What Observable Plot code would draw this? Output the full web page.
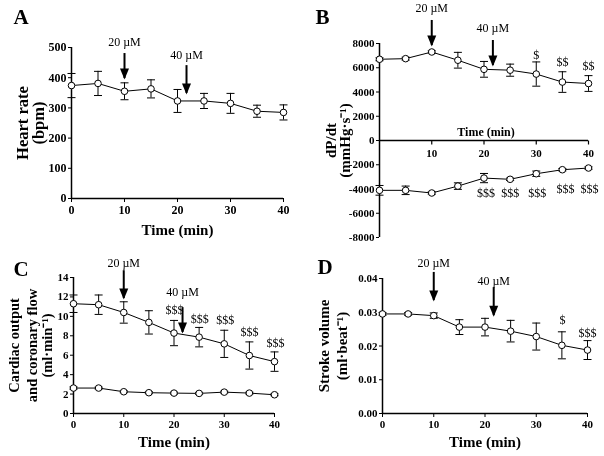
<!DOCTYPE html>
<html><head><meta charset="utf-8">
<script src="https://cdn.jsdelivr.net/npm/d3@7"></script>
<script src="https://cdn.jsdelivr.net/npm/@observablehq/plot@0.6"></script>
<style>
body{margin:0;background:#fff;}
#wrap{position:relative;width:604px;height:456px;overflow:hidden;background:#fff;-webkit-font-smoothing:antialiased;}
#wrap svg{will-change:transform;}
</style></head><body><div id="wrap"></div>
<script>
// ---- data ----
const time = [0, 5, 10, 15, 20, 25, 30, 35, 40];
const xTicks = [0, 10, 20, 30, 40];

const heartRate   = [374, 381, 355, 363, 323, 323, 315, 289, 285];
const heartRateSE = [40, 40, 28, 30, 38, 25, 33, 20, 25];
const heartRateTicks = [0, 100, 200, 300, 400, 500];

const dpdtMax   = [6700, 6750, 7300, 6620, 5870, 5800, 5480, 4820, 4700];
const dpdtMaxSE = [120, 120, 100, 650, 650, 500, 1000, 850, 650];
const dpdtMin   = [-4110, -4110, -4330, -3760, -3100, -3200, -2740, -2410, -2270];
const dpdtMinSE = [400, 350, 100, 270, 380, 100, 220, 100, 100];
const dpdtTicks = [-8000, -6000, -4000, -2000, 0, 2000, 4000, 6000, 8000];

const cardiacOutput   = [11.3, 11.2, 10.4, 9.38, 8.28, 7.86, 7.17, 5.97, 5.34];
const cardiacOutputSE = [0.9, 1.0, 1.1, 1.2, 1.3, 1.0, 1.4, 1.4, 1.0];
const coronaryFlow    = [2.62, 2.62, 2.24, 2.14, 2.1, 2.07, 2.2, 2.1, 1.93];
const coronaryFlowSE  = [0.12, 0.1, 0.1, 0.1, 0.1, 0.1, 0.1, 0.1, 0.1];
const flowTicks = [0, 2, 4, 6, 8, 10, 12, 14];

const strokeVolume   = [0.0295, 0.0295, 0.0290, 0.0256, 0.0256, 0.0244, 0.0228, 0.0202, 0.0188];
const strokeVolumeSE = [0.0004, 0.0004, 0.0008, 0.0022, 0.0026, 0.0032, 0.0040, 0.0040, 0.0028];
const svTicks = [0, 0.01, 0.02, 0.03, 0.04];

const doseLabels = ["20 µM", "40 µM"];
const doseTimes = [10, 21.7];
// arrow [top, tip, label] heights per panel, in each panel's units
const arrowsA = [[480, 397, 517], [440, 348, 473]];
const arrowsB = [[9900, 7830, 10880], [8250, 6190, 9240]];
const arrowsC = [[14.7, 11.84, 15.44], [10.9, 8.34, 12.46]];
const arrowsD = [[0.0418, 0.0335, 0.0444], [0.0373, 0.0290, 0.0391]];

// significance marks: [time, height, label]
const sigB = [[30, 7010, "$"], [35, 6430, "$$"], [40, 6100, "$$"],
              [20.4, -4370, "$$$"], [25, -4370, "$$$"], [30.2, -4370, "$$$"], [35.6, -4040, "$$$"], [40.2, -4040, "$$$"]];
const sigC = [[20.1, 10.6, "$$$"], [25.1, 9.68, "$$$"], [30.2, 9.57, "$$$"], [35, 8.34, "$$$"], [40.2, 7.2, "$$$"]];
const sigD = [[35.1, 0.0276, "$"], [40, 0.0237, "$$$"]];

// ---- drawing ----
const serif = "'Liberation Serif','Times New Roman',Times,serif";
const capSymbol = {draw(ctx) { ctx.moveTo(-4, 0); ctx.lineTo(4, 0); }};
const tickDown = {draw(ctx) { ctx.moveTo(0, 0); ctx.lineTo(0, 4); }};
const headSymbol = {draw(ctx) { ctx.moveTo(0, 1); ctx.lineTo(-4.5, -10); ctx.lineTo(4.5, -10); ctx.closePath(); }};

function seriesMarks(ys, ses) {
  const rows = time.map((t, i) => ({t, y: ys[i], lo: ys[i] - ses[i], hi: ys[i] + ses[i]}));
  return [
    Plot.ruleX(rows, {x: "t", y1: "lo", y2: "hi", stroke: "black", strokeWidth: 1}),
    Plot.dot(rows, {x: "t", y: "lo", symbol: capSymbol, stroke: "black", fill: "none", strokeWidth: 1}),
    Plot.dot(rows, {x: "t", y: "hi", symbol: capSymbol, stroke: "black", fill: "none", strokeWidth: 1}),
    Plot.line(rows, {x: "t", y: "y", stroke: "black", strokeWidth: 1}),
    Plot.dot(rows, {x: "t", y: "y", r: 3.3, fill: "white", stroke: "black", strokeWidth: 1})
  ];
}
function arrowMarks(arr) {
  const rows = arr.map((a, i) => ({t: doseTimes[i], top: a[0], tip: a[1], ty: a[2], label: doseLabels[i]}));
  return [
    Plot.ruleX(rows, {x: "t", y1: "top", y2: "tip", stroke: "black", strokeWidth: 2}),
    Plot.dot(rows, {x: "t", y: "tip", symbol: headSymbol, fill: "black", stroke: "none"}),
    Plot.text(rows, {x: "t", y: "ty", text: "label", fill: "black", fontSize: 12, fontWeight: "normal", fontFamily: serif})
  ];
}
function sigMarks(arr) {
  return Plot.text(arr, {x: d => d[0], y: d => d[1], text: d => d[2], fill: "black", fontSize: 12, fontWeight: "normal", fontFamily: serif});
}
function yLabel(lines) {
  return lines.map(([txt, dx, size]) => Plot.text([txt], {text: d => d, frameAnchor: "left", textAnchor: "middle", lineAnchor: "middle", rotate: -90, dx, fill: "black", fontSize: size, fontWeight: "bold", fontFamily: serif}));
}
function xLabel(dy) {
  return Plot.text(["Time (min)"], {text: d => d, frameAnchor: "bottom", textAnchor: "middle", lineAnchor: "middle", dy, fill: "black", fontSize: 15, fontWeight: "bold", fontFamily: serif});
}
function letter(ch, dx, dy) {
  return Plot.text([ch], {text: d => d, frameAnchor: "top-left", dx, dy, textAnchor: "start", lineAnchor: "bottom", fill: "black", fontSize: 21, fontWeight: "bold", fontFamily: serif});
}
function place(svg, left, top) {
  svg.style.position = "absolute";
  svg.style.left = left + "px";
  svg.style.top = top + "px";
  svg.style.overflow = "visible";
  svg.style.background = "transparent";
  document.getElementById("wrap").appendChild(svg);
}
const baseStyle = {fontFamily: serif, fontSize: "11px", fontWeight: "bold", color: "black", background: "transparent"};
const xOpts = {domain: [0, 40], ticks: xTicks, tickSize: 4, tickPadding: 3, label: null};

// Panel A
place(Plot.plot({
  width: 302, height: 248, marginTop: 47, marginRight: 19, marginBottom: 50, marginLeft: 71,
  style: {...baseStyle, fontSize: "12px"},
  x: xOpts,
  y: {domain: [0, 500], ticks: heartRateTicks, tickSize: 3, tickPadding: 2, label: null},
  marks: [
    Plot.ruleX([0], {stroke: "black", strokeWidth: 1.5}),
    Plot.ruleY([0], {stroke: "black", strokeWidth: 1.5}),
    ...seriesMarks(heartRate, heartRateSE),
    ...arrowMarks(arrowsA),
    ...yLabel([["Heart rate", -49, 16.5], ["(bpm)", -33, 16.5]]),
    xLabel(32),
    letter("A", -58, -24)
  ]
}), 0, 0);

// Panel B
place(Plot.plot({
  width: 302, height: 248, marginTop: 43, marginRight: 16, marginBottom: 11, marginLeft: 77,
  style: baseStyle,
  x: {domain: [0, 40], axis: null},
  y: {domain: [-8000, 8000], ticks: dpdtTicks, tickFormat: d => String(d), tickSize: 3, tickPadding: 2, label: null},
  marks: [
    Plot.ruleX([0], {stroke: "black", strokeWidth: 1.5}),
    Plot.ruleY([0], {stroke: "black", strokeWidth: 1.5}),
    Plot.dot(xTicks.slice(1), {x: d => d, y: () => 0, symbol: tickDown, stroke: "black", strokeWidth: 1.2, fill: "none"}),
    Plot.text(xTicks.slice(1), {x: d => d, y: () => 0, text: d => String(d), dy: 13, fill: "black", fontSize: 11, fontWeight: "bold", fontFamily: serif}),
    Plot.text(["Time (min)"], {x: () => 20, y: () => 0, text: d => d, dx: 2, dy: -8, fill: "black", fontSize: 12, fontWeight: "bold", fontFamily: serif}),
    ...seriesMarks(dpdtMax, dpdtMaxSE),
    ...seriesMarks(dpdtMin, dpdtMinSE),
    ...arrowMarks(arrowsB),
    sigMarks(sigB),
    ...yLabel([["dP/dt", -48, 15], ["(mmHg·s⁻¹)", -34, 15]]),
    letter("B", -64, -20)
  ]
}), 302, 0);

// Panel C
place(Plot.plot({
  width: 302, height: 208, marginTop: 29, marginRight: 28, marginBottom: 43, marginLeft: 73,
  style: baseStyle,
  x: xOpts,
  y: {domain: [0, 14], ticks: flowTicks, tickSize: 3, tickPadding: 2, label: null},
  marks: [
    Plot.ruleX([0], {stroke: "black", strokeWidth: 1.5}),
    Plot.ruleY([0], {stroke: "black", strokeWidth: 1.5}),
    ...seriesMarks(cardiacOutput, cardiacOutputSE),
    ...seriesMarks(coronaryFlow, coronaryFlowSE),
    ...arrowMarks(arrowsC),
    sigMarks(sigC),
    ...yLabel([["Cardiac output", -59, 14.5], ["and coronary flow", -41, 14.5], ["(ml·min⁻¹)", -26, 14.5]]),
    xLabel(29),
    letter("C", -60, -2)
  ]
}), 0, 248);

// Panel D
place(Plot.plot({
  width: 302, height: 208, marginTop: 30, marginRight: 17, marginBottom: 43, marginLeft: 80,
  style: baseStyle,
  x: xOpts,
  y: {domain: [0, 0.04], ticks: svTicks, tickFormat: d3.format(".2f"), tickSize: 3, tickPadding: 2, label: null},
  marks: [
    Plot.ruleX([0], {stroke: "black", strokeWidth: 1.5}),
    Plot.ruleY([0], {stroke: "black", strokeWidth: 1.5}),
    ...seriesMarks(strokeVolume, strokeVolumeSE),
    ...arrowMarks(arrowsD),
    sigMarks(sigD),
    ...yLabel([["Stroke volume", -58, 15], ["(ml·beat⁻¹)", -40, 15]]),
    xLabel(29),
    letter("D", -65, -5)
  ]
}), 302, 248);
</script></body></html>
